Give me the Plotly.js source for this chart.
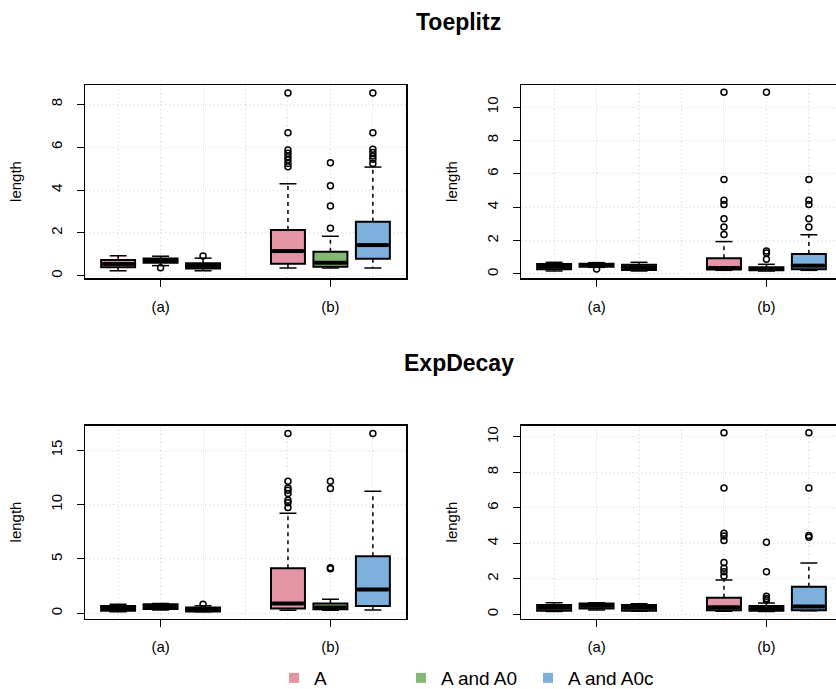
<!DOCTYPE html>
<html>
<head>
<meta charset="utf-8">
<script src="https://cdn.plot.ly/plotly-3.0.1.min.js"></script>
<style>html,body{margin:0;padding:0;background:#fff;}#chart{width:836px;height:689px;}</style>
</head>
<body>
<div id="chart"></div>
<script>
// ---- data ----
const methods = ['A', 'A and A0', 'A and A0c'];
const groupLabels = ['(a)', '(b)'];
const panelTitles = ['Toeplitz', 'ExpDecay'];
const yLabel = 'length';
const colors = ['#E495A5', '#86B875', '#7DB0DD'];

// order of boxes: (a)A, (a)A and A0, (a)A and A0c, (b)A, (b)A and A0, (b)A and A0c
// Toeplitz, left panel
const p1Lower  = [0.23, 0.47, 0.23, 0.36, 0.36, 0.36];
const p1Q1     = [0.39, 0.61, 0.34, 0.56, 0.42, 0.79];
const p1Median = [0.55, 0.70, 0.46, 1.15, 0.61, 1.43];
const p1Q3     = [0.73, 0.80, 0.58, 2.13, 1.12, 2.52];
const p1Upper  = [0.93, 0.91, 0.82, 4.29, 1.84, 5.07];
const p1Outliers = [[], [0.37], [0.92],
  [8.53, 6.67, 5.87, 5.71, 5.55, 5.40, 5.24, 5.09],
  [5.27, 4.20, 3.25, 2.22],
  [8.53, 6.67, 5.90, 5.75, 5.59, 5.43, 5.24]];

// Toeplitz, right panel
const p2Lower  = [0.18, 0.40, 0.18, 0.22, 0.18, 0.22];
const p2Q1     = [0.28, 0.44, 0.24, 0.27, 0.22, 0.28];
const p2Median = [0.44, 0.54, 0.40, 0.36, 0.30, 0.50];
const p2Q3     = [0.60, 0.62, 0.56, 0.95, 0.40, 1.20];
const p2Upper  = [0.70, 0.68, 0.70, 1.94, 0.58, 2.35];
const p2Outliers = [[], [0.30], [],
  [10.88, 5.66, 4.42, 4.16, 3.31, 2.81, 2.37],
  [10.88, 1.38, 1.25, 0.88],
  [5.66, 4.42, 4.16, 3.31, 2.81]];

// ExpDecay, left panel
const p3Lower  = [0.15, 0.30, 0.15, 0.28, 0.28, 0.30];
const p3Q1     = [0.24, 0.40, 0.18, 0.46, 0.37, 0.67];
const p3Median = [0.46, 0.60, 0.32, 0.92, 0.55, 2.20];
const p3Q3     = [0.67, 0.83, 0.55, 4.15, 0.92, 5.26];
const p3Upper  = [0.85, 0.90, 0.70, 9.20, 1.31, 11.23];
const p3Outliers = [[], [], [0.85],
  [16.53, 12.15, 11.53, 11.32, 11.02, 10.40, 10.16, 9.73],
  [12.15, 11.47, 4.19, 4.10],
  [16.53]];

// ExpDecay, right panel
const p4Lower  = [0.17, 0.25, 0.18, 0.18, 0.17, 0.20];
const p4Q1     = [0.20, 0.34, 0.20, 0.24, 0.20, 0.24];
const p4Median = [0.37, 0.49, 0.37, 0.40, 0.31, 0.45];
const p4Q3     = [0.53, 0.62, 0.53, 0.94, 0.47, 1.56];
const p4Upper  = [0.66, 0.66, 0.60, 1.94, 0.65, 2.90];
const p4Outliers = [[], [], [],
  [10.23, 7.12, 4.57, 4.42, 4.16, 2.92, 2.60, 2.41, 2.16],
  [4.07, 2.41, 1.03, 0.90, 0.81],
  [10.23, 7.12, 4.45, 4.35]];

// ---- build ----
const panels = [
  {lo: p1Lower, q1: p1Q1, med: p1Median, q3: p1Q3, hi: p1Upper, out: p1Outliers, ax: ''},
  {lo: p2Lower, q1: p2Q1, med: p2Median, q3: p2Q3, hi: p2Upper, out: p2Outliers, ax: '2'},
  {lo: p3Lower, q1: p3Q1, med: p3Median, q3: p3Q3, hi: p3Upper, out: p3Outliers, ax: '3'},
  {lo: p4Lower, q1: p4Q1, med: p4Median, q3: p4Q3, hi: p4Upper, out: p4Outliers, ax: '4'}
];
const boxW = 0.8, stapleW = 0.4;
const pos = (g, m) => g * 4 + m + 1;

const traces = [];
panels.forEach(p => {
  const xa = 'x' + p.ax, ya = 'y' + p.ax;
  methods.forEach((name, m) => {
    const idx = [m, m + 3];
    const xs = [pos(0, m), pos(1, m)];
    traces.push({
      type: 'box', x: xs, xaxis: xa, yaxis: ya,
      q1: idx.map(i => p.q1[i]), median: idx.map(i => p.med[i]), q3: idx.map(i => p.q3[i]),
      lowerfence: idx.map(i => p.q1[i]), upperfence: idx.map(i => p.q3[i]),
      width: boxW, whiskerwidth: 0, boxpoints: false,
      fillcolor: colors[m], line: {color: 'black', width: 2},
      showlegend: false, hoverinfo: 'skip'
    });
  });
  // whiskers (dashed), staples, medians, outliers
  const wx = [], wy = [], sx = [], sy = [], mx = [], my = [], ox = [], oy = [];
  for (let i = 0; i < 6; i++) {
    const x = pos(Math.floor(i / 3), i % 3);
    wx.push(x, x, null, x, x, null);
    wy.push(p.q3[i], p.hi[i], null, p.q1[i], p.lo[i], null);
    sx.push(x - stapleW / 2, x + stapleW / 2, null, x - stapleW / 2, x + stapleW / 2, null);
    sy.push(p.hi[i], p.hi[i], null, p.lo[i], p.lo[i], null);
    mx.push(x - boxW / 2 + 0.03, x + boxW / 2 - 0.03, null);
    my.push(p.med[i], p.med[i], null);
    p.out[i].forEach(v => { ox.push(x); oy.push(v); });
  }
  traces.push({type: 'scatter', mode: 'lines', x: wx, y: wy, xaxis: xa, yaxis: ya,
    line: {color: 'black', width: 1.5, dash: '4px,4px'}, showlegend: false, hoverinfo: 'skip'});
  traces.push({type: 'scatter', mode: 'lines', x: sx, y: sy, xaxis: xa, yaxis: ya,
    line: {color: 'black', width: 1.5}, showlegend: false, hoverinfo: 'skip'});
  traces.push({type: 'scatter', mode: 'lines', x: mx, y: my, xaxis: xa, yaxis: ya,
    line: {color: 'black', width: 4}, showlegend: false, hoverinfo: 'skip'});
  traces.push({type: 'scatter', mode: 'markers', x: ox, y: oy, xaxis: xa, yaxis: ya,
    marker: {symbol: 'circle-open', size: 6, color: 'black', line: {width: 1.5}},
    showlegend: false, hoverinfo: 'skip'});
});
// legend entries
methods.forEach((name, m) => {
  traces.push({type: 'scatter', mode: 'markers', x: [null], y: [null], name: name,
    marker: {symbol: 'square', size: 10, color: colors[m]}, showlegend: true, hoverinfo: 'skip'});
});

const W = 836, H = 689;
const font = 'Liberation Sans, Arial, Helvetica, sans-serif';
const grid = '#D3D3D3';
const gdash = '1px,3px';
function xAxis(domain, range, anchor) {
  return {domain: domain, range: range, anchor: anchor,
    tickmode: 'array', tickvals: [pos(0, 1), pos(1, 1)], ticktext: groupLabels,
    ticks: 'outside', ticklen: 7, tickwidth: 1, tickcolor: 'black',
    showline: true, linecolor: 'black', linewidth: 1.5, mirror: true,
    showgrid: true, gridcolor: grid, griddash: gdash, gridwidth: 1,
    minor: {dtick: 1, tick0: 0, showgrid: true, gridcolor: grid, griddash: gdash, gridwidth: 1, ticks: ''},
    zeroline: false, tickfont: {size: 15, color: 'black', family: font}, ticklabelstandoff: 7,
    fixedrange: true};
}
function yAxis(domain, range, dtick, anchor, mirror) {
  return {domain: domain, range: range, anchor: anchor, dtick: dtick, tick0: 0,
    tickangle: -90, ticks: 'outside', ticklen: 7, tickwidth: 1, tickcolor: 'black',
    showline: true, linecolor: 'black', linewidth: 1.5, mirror: mirror,
    showgrid: true, gridcolor: grid, griddash: gdash, gridwidth: 1,
    zeroline: false, tickfont: {size: 15, color: 'black', family: font}, ticklabelstandoff: 9,
    title: {text: yLabel, font: {size: 15, color: 'black', family: font}, standoff: 22},
    fixedrange: true};
}
const xdL = [85 / W, 406 / W], xdR = [521 / W, 1];
const ydT = [1 - 278 / H, 1 - 85 / H], ydB = [1 - 618.5 / H, 1 - 425.5 / H];
const xrL = [0.22, 7.78], xrR = [0.22, 0.22 + (W - 521) / 42.46];

const layout = {
  width: W, height: H, margin: {l: 0, r: 0, t: 0, b: 0, autoexpand: false},
  paper_bgcolor: 'white', plot_bgcolor: 'white',
  font: {family: font, color: 'black'},
  boxmode: 'overlay',
  xaxis: xAxis(xdL, xrL, 'y'), yaxis: yAxis(ydT, [-0.107, 8.9], 2, 'x', true),
  xaxis2: xAxis(xdR, xrR, 'y2'), yaxis2: yAxis(ydT, [-0.24, 11.32], 2, 'x2', false),
  xaxis3: xAxis(xdL, xrL, 'y3'), yaxis3: yAxis(ydB, [-0.47, 17.27], 5, 'x3', true),
  xaxis4: xAxis(xdR, xrR, 'y4'), yaxis4: yAxis(ydB, [-0.23, 10.64], 2, 'x4', false),
  showlegend: true,
  legend: {orientation: 'h', x: 274 / W, xanchor: 'left', y: 1 - 678 / H, yanchor: 'middle',
    font: {size: 19, color: 'black', family: font}, entrywidth: 82, entrywidthmode: 'pixels',
    bgcolor: 'rgba(0,0,0,0)', itemclick: false},
  annotations: [
    {text: '<b>' + panelTitles[0] + '</b>', xref: 'paper', yref: 'paper', x: 459 / W, y: 1 - 22 / H,
      xanchor: 'center', yanchor: 'middle', showarrow: false, font: {size: 23, color: 'black', family: font}},
    {text: '<b>' + panelTitles[1] + '</b>', xref: 'paper', yref: 'paper', x: 459 / W, y: 1 - 363 / H,
      xanchor: 'center', yanchor: 'middle', showarrow: false, font: {size: 23, color: 'black', family: font}}
  ]
};
Plotly.newPlot('chart', traces, layout, {staticPlot: true, displayModeBar: false});
</script>
</body>
</html>
